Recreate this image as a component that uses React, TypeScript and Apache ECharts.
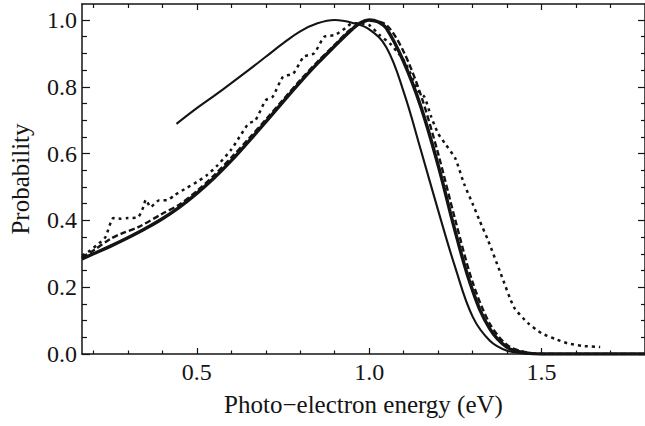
import React, { useEffect, useRef } from "react";
import * as echarts from "echarts";

// Tick values
const xMajor = [0.5, 1.0, 1.5];
const xMinor = [0.2, 0.3, 0.4, 0.6, 0.7, 0.8, 0.9, 1.1, 1.2, 1.3, 1.4, 1.6, 1.7];
const yMajor = [0, 0.2, 0.4, 0.6, 0.8, 1.0];
const yMinor = [0.05, 0.1, 0.15, 0.25, 0.3, 0.35, 0.45, 0.5, 0.55, 0.65, 0.7, 0.75, 0.85, 0.9, 0.95];

// Thin solid curve
const thinX = [0.441, 0.5, 0.55, 0.6, 0.65, 0.7, 0.75, 0.8, 0.85, 0.9, 0.95, 1.0, 1.05, 1.1, 1.15, 1.2, 1.25, 1.3, 1.35, 1.4, 1.45, 1.5, 1.8];
const thinY = [0.689, 0.736, 0.773, 0.811, 0.85, 0.89, 0.93, 0.966, 0.99, 1.0, 0.992, 0.972, 0.918, 0.785, 0.61, 0.43, 0.258, 0.112, 0.04, 0.01, 0.002, 0, 0];

// Thick solid curve
const thickX = [0.167, 0.2, 0.25, 0.3, 0.35, 0.4, 0.45, 0.5, 0.55, 0.6, 0.65, 0.7, 0.75, 0.8, 0.85, 0.9, 0.95, 0.975, 1.0, 1.025, 1.05, 1.1, 1.15, 1.2, 1.25, 1.3, 1.35, 1.4, 1.45, 1.5, 1.8];
const thickY = [0.285, 0.3, 0.323, 0.348, 0.375, 0.405, 0.44, 0.481, 0.527, 0.579, 0.636, 0.695, 0.755, 0.814, 0.87, 0.922, 0.972, 0.992, 1.0, 0.995, 0.975, 0.875, 0.74, 0.565, 0.365, 0.19, 0.075, 0.02, 0.004, 0, 0];

// Dashed curve
const dashX = [0.167, 0.2, 0.25, 0.28, 0.33, 0.4, 0.45, 0.5, 0.55, 0.6, 0.65, 0.7, 0.75, 0.8, 0.85, 0.9, 0.95, 1.0, 1.05, 1.1, 1.15, 1.2, 1.25, 1.3, 1.35, 1.4, 1.45, 1.5, 1.8];
const dashY = [0.29, 0.31, 0.345, 0.36, 0.38, 0.42, 0.448, 0.488, 0.535, 0.588, 0.644, 0.702, 0.761, 0.82, 0.875, 0.926, 0.975, 0.998, 0.985, 0.905, 0.775, 0.6, 0.4, 0.215, 0.09, 0.027, 0.006, 0, 0];

// Dotted (measured) curve
const dotX = [0.167, 0.185, 0.21, 0.235, 0.258, 0.28, 0.3, 0.33, 0.345, 0.352, 0.366, 0.39, 0.415, 0.436, 0.47, 0.5, 0.53, 0.56, 0.6, 0.63, 0.65, 0.67, 0.7, 0.72, 0.75, 0.78, 0.81, 0.84, 0.87, 0.9, 0.93, 0.95, 0.97, 1.0, 1.03, 1.06, 1.085, 1.1, 1.12, 1.14, 1.16, 1.18, 1.2, 1.22, 1.25, 1.275, 1.3, 1.32, 1.345, 1.38, 1.42, 1.46, 1.5, 1.54, 1.575, 1.62, 1.67];
const dotY = [0.295, 0.306, 0.326, 0.35, 0.407, 0.405, 0.407, 0.41, 0.44, 0.462, 0.44, 0.46, 0.461, 0.476, 0.497, 0.515, 0.536, 0.565, 0.612, 0.66, 0.69, 0.7, 0.76, 0.77, 0.83, 0.84, 0.89, 0.9, 0.95, 0.955, 0.975, 0.99, 0.99, 0.985, 0.955, 0.93, 0.9, 0.88, 0.84, 0.79, 0.77, 0.71, 0.66, 0.63, 0.585, 0.51, 0.45, 0.4, 0.34, 0.245, 0.14, 0.093, 0.062, 0.045, 0.032, 0.024, 0.021];

const FONT = "Liberation Serif";
const INK = "#141414";

function pairs(xs: number[], ys: number[]) {
  return xs.map((x, i) => [x, ys[i]]);
}

export default function App() {
  const ref = useRef<HTMLDivElement>(null);
  useEffect(() => {
    if (!ref.current) return;
    const chart = echarts.init(ref.current, undefined, { renderer: "svg" });
    const xr = { min: 0.167, max: 1.8 };
    const yr = { min: 0, max: 1.048 };
    const hideLabel = { show: false };
    const xAxisBase = (pos: string, vals: number[], len: number, showLine: boolean, label: boolean) => ({
      type: "value",
      position: pos,
      ...xr,
      splitLine: { show: false },
      axisLine: { show: showLine, onZero: false, lineStyle: { color: INK, width: 1.5 } },
      axisTick: { show: true, inside: true, length: len, customValues: vals, lineStyle: { color: INK, width: 1.2 } },
      axisLabel: label
        ? { show: true, customValues: xMajor, formatter: (v: number) => v.toFixed(1), color: INK, fontFamily: FONT, fontSize: 24, margin: 6 }
        : hideLabel,
    });
    const yAxisBase = (pos: string, vals: number[], len: number, showLine: boolean, label: boolean) => ({
      type: "value",
      position: pos,
      ...yr,
      splitLine: { show: false },
      axisLine: { show: showLine, onZero: false, lineStyle: { color: INK, width: 1.5 } },
      axisTick: { show: true, inside: true, length: len, customValues: vals, lineStyle: { color: INK, width: 1.2 } },
      axisLabel: label
        ? { show: true, customValues: yMajor, formatter: (v: number) => v.toFixed(1), color: INK, fontFamily: FONT, fontSize: 24, margin: 5 }
        : hideLabel,
    });
    const xMainAxis: any = xAxisBase("bottom", xMajor, 6, true, true);
    xMainAxis.name = "Photo\u2212electron energy (eV)";
    xMainAxis.nameLocation = "middle";
    xMainAxis.nameGap = 38;
    xMainAxis.nameTextStyle = { color: INK, fontFamily: FONT, fontSize: 25 };
    const yMainAxis: any = yAxisBase("left", yMajor, 8, true, true);
    yMainAxis.name = "Probability";
    yMainAxis.nameLocation = "middle";
    yMainAxis.nameGap = 49;
    yMainAxis.nameTextStyle = { color: INK, fontFamily: FONT, fontSize: 25 };

    chart.setOption({
      animation: false,
      backgroundColor: "#ffffff",
      grid: { left: 79, top: 4, width: 566, height: 350, containLabel: false },
      xAxis: [
        xMainAxis,
        xAxisBase("bottom", xMinor, 3.5, false, false),
        xAxisBase("top", xMajor, 6, true, false),
        xAxisBase("top", xMinor, 4, false, false),
      ],
      yAxis: [
        yMainAxis,
        yAxisBase("left", yMinor, 5, false, false),
        yAxisBase("right", yMajor, 7, true, false),
        yAxisBase("right", yMinor, 4, false, false),
      ],
      series: [
        {
          type: "line",
          data: pairs(thinX, thinY),
          showSymbol: false,
          smooth: 0.4,
          lineStyle: { color: INK, width: 2.1 },
          z: 3,
        },
        {
          type: "line",
          data: pairs(dashX, dashY),
          showSymbol: false,
          smooth: 0.3,
          lineStyle: { color: INK, width: 2.4, type: [6, 3] },
          z: 2,
        },
        {
          type: "line",
          data: pairs(dotX, dotY),
          showSymbol: false,
          smooth: 0.2,
          lineStyle: { color: INK, width: 2.5, type: [3, 4] },
          z: 2,
        },
        {
          type: "line",
          data: pairs(thickX, thickY),
          showSymbol: false,
          smooth: 0.4,
          lineStyle: { color: INK, width: 3.4 },
          z: 4,
        },
      ],
    });
    return () => chart.dispose();
  }, []);
  return <div ref={ref} style={{ width: 645, height: 426, position: "absolute", left: 0, top: 0 }} />;
}
